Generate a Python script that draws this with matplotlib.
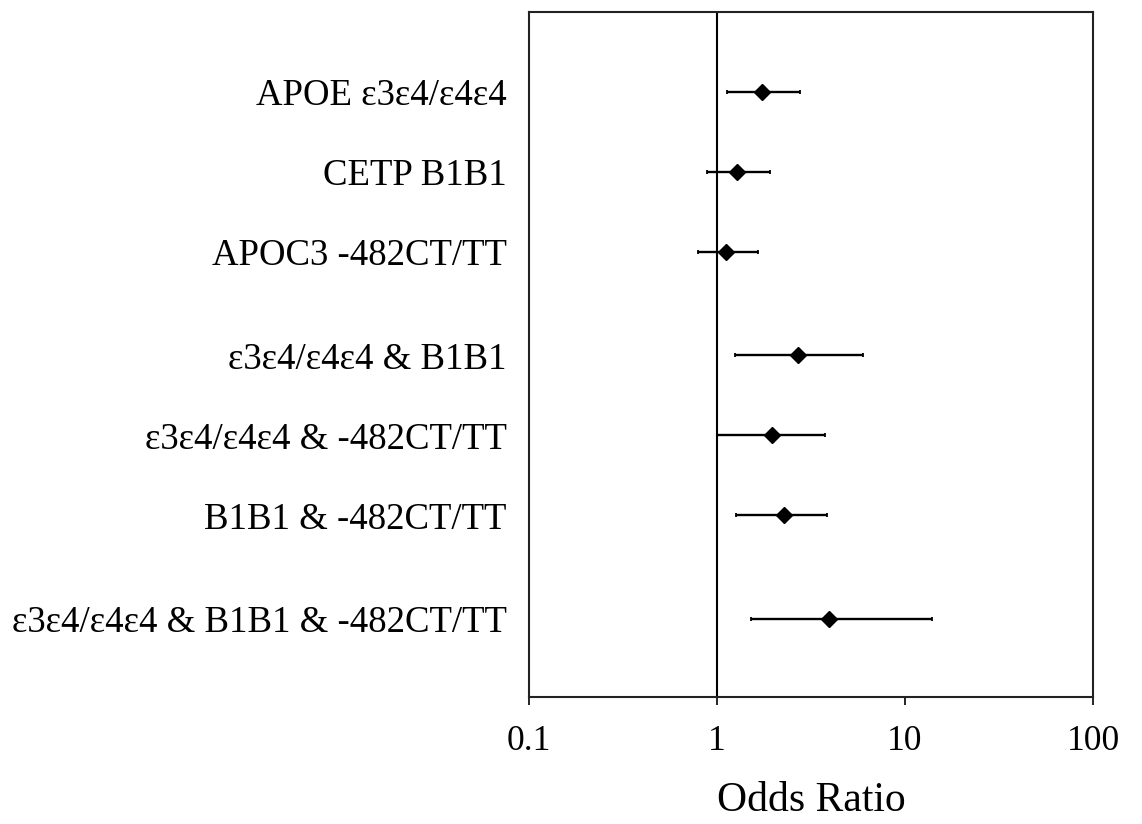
import matplotlib
matplotlib.use("Agg")
import matplotlib.pyplot as plt
import numpy as np

plt.rcParams['font.family'] = ['Liberation Serif', 'DejaVu Serif']

labels = ['APOE \u03b53\u03b54/\u03b54\u03b54',
          'CETP B1B1',
          'APOC3 -482CT/TT',
          '\u03b53\u03b54/\u03b54\u03b54 & B1B1',
          '\u03b53\u03b54/\u03b54\u03b54 & -482CT/TT',
          'B1B1 & -482CT/TT',
          '\u03b53\u03b54/\u03b54\u03b54 & B1B1 & -482CT/TT']
groups = [1, 1, 1, 2, 2, 2, 3]
odds = [1.74, 1.28, 1.12, 2.70, 1.96, 2.27, 3.95]
lower = [1.13, 0.88, 0.79, 1.25, 1.00, 1.26, 1.52]
upper = [2.77, 1.92, 1.65, 6.00, 3.76, 3.86, 14.0]
xticks = [0.1, 1, 10, 100]
xticklabels = ['0.1', '1', '10', '100']

# rows spaced by 1, with an extra gap between groups
gap = 0.29
ypos = [i + gap * (g - 1) for i, g in enumerate(groups)]

odds = np.array(odds)
err = [odds - np.array(lower), np.array(upper) - odds]

fig = plt.figure(figsize=(11.42, 8.24), dpi=100)
ax = fig.add_axes([529 / 1142, 1 - 697 / 824, (1093 - 529) / 1142, (697 - 12) / 824])

ax.axvline(1, color='black', lw=1.5, zorder=1)
ax.errorbar(odds, ypos, xerr=err, fmt='D', color='black', ms=8,
            elinewidth=1.7, capsize=1.6, capthick=1.3, zorder=3)

ax.set_xscale('log')
ax.set_xlim(0.1, 100)
ax.set_ylim(7.56, -1.0)
ax.set_xticks(xticks)
ax.set_xticklabels(xticklabels, fontsize=25.5)
ax.minorticks_off()
ax.tick_params(axis='x', direction='out', length=6, width=1.2, pad=14)
ax.set_yticks(ypos)
ax.set_yticklabels(labels, fontsize=26.5)
ax.tick_params(axis='y', length=0, pad=16)
ax.set_xlabel('Odds Ratio', fontsize=30, labelpad=17)

for s in ax.spines.values():
    s.set_linewidth(1.5)
    s.set_color('#222222')

fig.savefig('out.png', dpi=100)
